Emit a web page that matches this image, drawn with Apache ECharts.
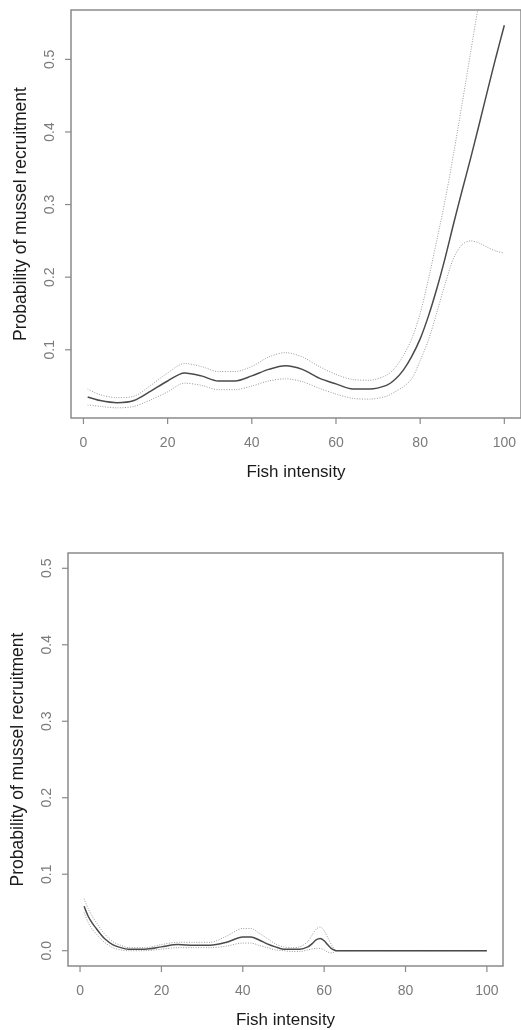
<!DOCTYPE html>
<html>
<head>
<meta charset="utf-8">
<script src="https://cdn.jsdelivr.net/npm/echarts@6/dist/echarts.min.js"></script>
<style>
  html, body { margin: 0; padding: 0; background: #fff; }
  #chart { width: 521px; height: 1030px; }
</style>
</head>
<body>
<div id="chart"></div>
<script>
// top panel: fitted probability and confidence bounds
var xTop = [1, 4, 8, 12, 16, 20, 24, 28, 32, 36, 40, 44, 48, 52, 56, 60, 64, 68, 72, 74, 76, 78, 80, 82, 84, 86, 88, 90, 92, 94, 96, 98, 100];
var fitTop = [0.035, 0.030, 0.027, 0.030, 0.043, 0.057, 0.068, 0.064, 0.057, 0.057, 0.064, 0.073, 0.078, 0.073, 0.061, 0.053, 0.046, 0.046, 0.051, 0.059, 0.072, 0.091, 0.115, 0.147, 0.185, 0.228, 0.275, 0.320, 0.364, 0.410, 0.457, 0.503, 0.547];
var upperTop = [0.046, 0.038, 0.034, 0.036, 0.051, 0.068, 0.081, 0.077, 0.070, 0.070, 0.077, 0.090, 0.096, 0.090, 0.077, 0.066, 0.059, 0.058, 0.065, 0.075, 0.092, 0.115, 0.150, 0.198, 0.252, 0.308, 0.372, 0.440, 0.510, 0.580, 0.650, 0.720, 0.790];
var lowerTop = [0.024, 0.022, 0.020, 0.022, 0.031, 0.042, 0.054, 0.051, 0.045, 0.045, 0.050, 0.057, 0.060, 0.056, 0.047, 0.039, 0.033, 0.032, 0.036, 0.042, 0.049, 0.060, 0.085, 0.114, 0.152, 0.192, 0.227, 0.245, 0.250, 0.247, 0.241, 0.236, 0.233];

// bottom panel
var xBot = [1, 2, 3, 4, 5, 6, 8, 10, 12, 16, 20, 24, 28, 32, 36, 40, 42, 44, 46, 48, 50, 52, 54, 56, 57, 58, 59, 60, 61, 62, 63, 70, 80, 90, 100];
var fitBot = [0.058, 0.045, 0.036, 0.029, 0.022, 0.016, 0.008, 0.004, 0.002, 0.002, 0.005, 0.008, 0.007, 0.007, 0.011, 0.018, 0.018, 0.014, 0.009, 0.005, 0.002, 0.002, 0.002, 0.005, 0.009, 0.014, 0.016, 0.013, 0.007, 0.002, 0, 0, 0, 0, 0];
var upperBot = [0.068, 0.055, 0.045, 0.037, 0.029, 0.022, 0.012, 0.007, 0.004, 0.004, 0.008, 0.011, 0.011, 0.011, 0.019, 0.029, 0.029, 0.023, 0.016, 0.009, 0.005, 0.004, 0.005, 0.012, 0.020, 0.028, 0.031, 0.026, 0.016, 0.006, 0, 0, 0, 0, 0];
var lowerBot = [0.050, 0.037, 0.028, 0.022, 0.016, 0.011, 0.004, 0.001, 0.000, 0.000, 0.002, 0.004, 0.004, 0.004, 0.006, 0.010, 0.010, 0.007, 0.004, 0.001, 0.000, -0.001, -0.001, 0.001, 0.002, 0.003, 0.003, 0.001, -0.002, -0.003, 0, 0, 0, 0, 0];

var xTicks = [0, 20, 40, 60, 80, 100];
var yTicks = [0, 0.1, 0.2, 0.3, 0.4, 0.5];
var xTitle = 'Fish intensity';
var yTitle = 'Probability of mussel recruitment';

// R style limits (range padded by 4%)
var xMin = -2.96, xMax = 103.96;
var yLimits = [[0.006, 0.568], [-0.02, 0.52]];

function pairs(xs, ys) {
    var res = [];
    for (var i = 0; i < xs.length; i++) {
        res.push([xs[i], ys[i]]);
    }
    return res;
}

var font = 'Liberation Sans';
var gray = '#8a8a8a';

function xAxis(idx) {
    return {
        type: 'value', gridIndex: idx, min: xMin, max: xMax,
        splitLine: { show: false },
        axisLine: { show: false, onZero: false },
        axisTick: { show: false },
        axisLabel: { customValues: xTicks, margin: 18, color: '#7a7a7a', fontSize: 14, fontFamily: font },
        name: xTitle, nameLocation: 'middle', nameGap: 46,
        nameTextStyle: { color: '#1a1a1a', fontSize: 17, fontFamily: font }
    };
}

function yAxis(idx) {
    return {
        type: 'value', gridIndex: idx, min: yLimits[idx][0], max: yLimits[idx][1],
        splitLine: { show: false },
        axisLine: { show: false, onZero: false },
        axisTick: { show: false },
        axisLabel: {
            customValues: yTicks, rotate: 90, margin: 14, color: '#7a7a7a', fontSize: 14, fontFamily: font,
            formatter: function (v) { return v.toFixed(1); }
        },
        name: yTitle, nameLocation: 'middle', nameGap: 41,
        nameTextStyle: { color: '#1a1a1a', fontSize: 17.5, fontFamily: font }
    };
}

function line(idx, data, dotted) {
    return {
        type: 'line', xAxisIndex: idx, yAxisIndex: idx, data: data,
        symbol: 'none', smooth: 0.3, clip: true, silent: true,
        lineStyle: dotted
            ? { color: '#9a9a9a', width: 1, type: [1, 1.5] }
            : { color: '#4a4a4a', width: 1.5 }
    };
}

// outside tick marks as a custom series, positioned by the axes
function ticks(idx, vertical) {
    var yMin = yLimits[idx][0];
    var data = vertical
        ? xTicks.map(function (v) { return [v, yMin]; })
        : yTicks.filter(function (v) { return v >= yMin; }).map(function (v) { return [xMin, v]; });
    return {
        type: 'custom', xAxisIndex: idx, yAxisIndex: idx, data: data,
        clip: false, silent: true, z: 10,
        renderItem: function (params, api) {
            var p = api.coord([api.value(0), api.value(1)]);
            var shape = vertical
                ? { x1: p[0], y1: p[1], x2: p[0], y2: p[1] + 6 }
                : { x1: p[0] - 6, y1: p[1], x2: p[0], y2: p[1] };
            return { type: 'line', shape: shape, style: { stroke: gray, lineWidth: 1.2 } };
        }
    };
}

var option = {
    animation: false,
    backgroundColor: '#fff',
    grid: [
        { left: 71, top: 10, width: 453, height: 408, show: true, borderColor: gray, borderWidth: 1.5, backgroundColor: 'transparent' },
        { left: 68, top: 553, width: 435, height: 415, show: true, borderColor: gray, borderWidth: 1.5, backgroundColor: 'transparent' }
    ],
    xAxis: [xAxis(0), xAxis(1)],
    yAxis: [yAxis(0), yAxis(1)],
    series: [
        line(0, pairs(xTop, upperTop), true),
        line(0, pairs(xTop, lowerTop), true),
        line(0, pairs(xTop, fitTop), false),
        line(1, pairs(xBot, upperBot), true),
        line(1, pairs(xBot, lowerBot), true),
        line(1, pairs(xBot, fitBot), false),
        ticks(0, true), ticks(0, false),
        ticks(1, true), ticks(1, false)
    ]
};

var myChart = echarts.init(document.getElementById('chart'));
myChart.setOption(option);
</script>
</body>
</html>
